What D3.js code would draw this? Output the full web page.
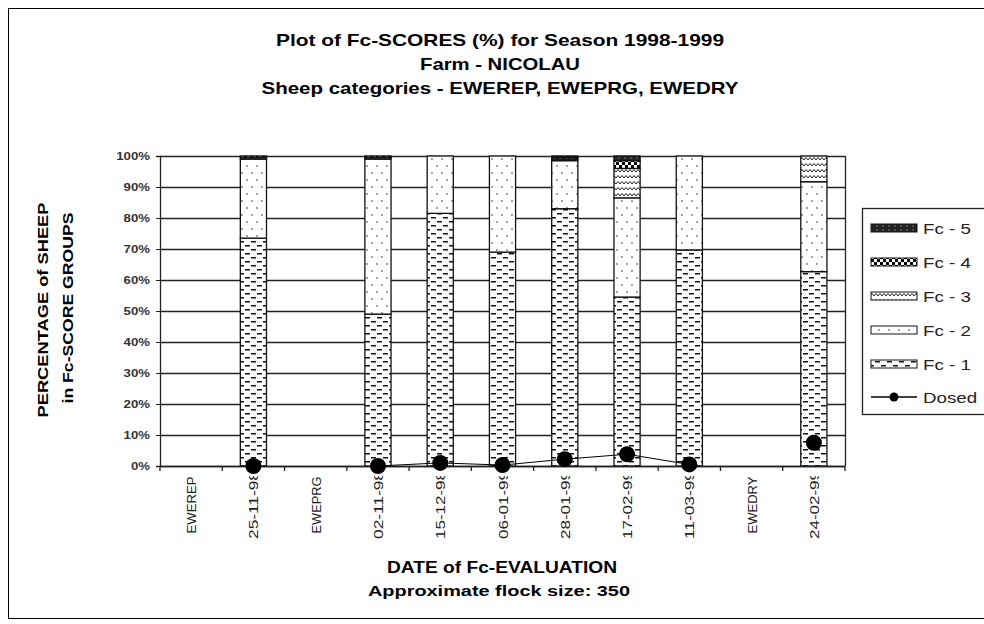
<!DOCTYPE html>
<html>
<head>
<meta charset="utf-8">
<script src="https://cdn.jsdelivr.net/npm/d3@7"></script>
<style>
  body { margin: 0; background: #fff; }
  text { font-family: Arial, "Liberation Sans", sans-serif; }
</style>
</head>
<body>
<div id="chart"></div>
<script>
// categories along the x axis (empty ones are group separators)
var categories = ['EWEREP', '25-11-98', 'EWEPRG', '02-11-98', '15-12-98', '06-01-99',
  '28-01-99', '17-02-99', '11-03-99', 'EWEDRY', '24-02-99'];

// percentages per Fc-score group (null = no bar)
var fc1 = [null, 73.5, null, 49, 81.5, 69, 83, 54.5, 69.7, null, 62.7];
var fc2 = [null, 25.5, null, 50, 18.5, 31, 15.5, 32, 30.3, null, 29];
var fc3 = [null, 0.5, null, 0.5, 0, 0, 0.5, 9.5, 0, null, 8.3];
var fc4 = [null, 0.5, null, 0.5, 0, 0, 0.5, 2.5, 0, null, 0];
var fc5 = [null, 0, null, 0, 0, 0, 0.5, 1.5, 0, null, 0];

// percentage of sheep dosed
var dosed = [null, 0, null, 0, 1, 0.3, 2.2, 3.8, 0.5, null, 7.5];

var yTicks = [0, 10, 20, 30, 40, 50, 60, 70, 80, 90, 100];

var W = 984, H = 624;
var margin = { top: 156, left: 160, right: 139, bottom: 158 };
var plotW = W - margin.left - margin.right,
  plotH = H - margin.top - margin.bottom;

// the old chart renders its fonts a bit wider than plain Arial
function stretch(sel, f) {
  sel.each(function () {
    var len = this.getComputedTextLength();
    d3.select(this).attr('textLength', len * f).attr('lengthAdjust', 'spacingAndGlyphs');
  });
}
function fitTo(sel, len) {
  sel.attr('textLength', len).attr('lengthAdjust', 'spacingAndGlyphs');
}

var svg = d3.select('#chart').append('svg')
  .attr('width', W).attr('height', H);

// patterns
var defs = svg.append('defs');

var p1 = defs.append('pattern').attr('id', 'pat1').attr('patternUnits', 'userSpaceOnUse')
  .attr('width', 12).attr('height', 8);
p1.append('rect').attr('width', 12).attr('height', 8).attr('fill', '#fff');
p1.append('rect').attr('x', 1).attr('y', 1).attr('width', 5).attr('height', 1.5).attr('fill', '#111');
p1.append('rect').attr('x', 7).attr('y', 5).attr('width', 5).attr('height', 1.5).attr('fill', '#111');

var p2 = defs.append('pattern').attr('id', 'pat2').attr('patternUnits', 'userSpaceOnUse')
  .attr('width', 10).attr('height', 14);
p2.append('rect').attr('width', 10).attr('height', 14).attr('fill', '#fff');
p2.append('circle').attr('cx', 2).attr('cy', 3).attr('r', 0.9).attr('fill', '#777');
p2.append('circle').attr('cx', 7).attr('cy', 10).attr('r', 0.9).attr('fill', '#777');

var p3 = defs.append('pattern').attr('id', 'pat3').attr('patternUnits', 'userSpaceOnUse')
  .attr('width', 8).attr('height', 6);
p3.append('rect').attr('width', 8).attr('height', 6).attr('fill', '#fff');
p3.append('path').attr('d', 'M0,4 L2,1.5 L4,4 L6,1.5 L8,4')
  .attr('fill', 'none').attr('stroke', '#222').attr('stroke-width', 1);

var p4 = defs.append('pattern').attr('id', 'pat4').attr('patternUnits', 'userSpaceOnUse')
  .attr('width', 6).attr('height', 6);
p4.append('rect').attr('width', 6).attr('height', 6).attr('fill', '#fff');
p4.append('rect').attr('width', 3).attr('height', 3).attr('fill', '#000');
p4.append('rect').attr('x', 3).attr('y', 3).attr('width', 3).attr('height', 3).attr('fill', '#000');

var p5 = defs.append('pattern').attr('id', 'pat5').attr('patternUnits', 'userSpaceOnUse')
  .attr('width', 6).attr('height', 4);
p5.append('rect').attr('width', 6).attr('height', 4).attr('fill', '#222');
p5.append('circle').attr('cx', 3).attr('cy', 2).attr('r', 0.7).attr('fill', '#999');

// clip for the x tick labels (the long date labels lose their top)
defs.append('clipPath').attr('id', 'xlabClip').append('rect')
  .attr('x', 0).attr('y', 476).attr('width', W).attr('height', 80);

var groups = [
  { name: 'Fc - 1', values: fc1, fill: 'url(#pat1)' },
  { name: 'Fc - 2', values: fc2, fill: 'url(#pat2)' },
  { name: 'Fc - 3', values: fc3, fill: 'url(#pat3)' },
  { name: 'Fc - 4', values: fc4, fill: 'url(#pat4)' },
  { name: 'Fc - 5', values: fc5, fill: 'url(#pat5)' },
];

// outer chart frame (right side runs off the picture)
svg.append('rect')
  .attr('x', 8.5).attr('y', 8.5).attr('width', W + 10).attr('height', H - 14)
  .attr('fill', 'none').attr('stroke', '#000').attr('stroke-width', 1);

// titles
var titles = ['Plot of Fc-SCORES (%) for Season 1998-1999', 'Farm - NICOLAU',
  'Sheep categories - EWEREP, EWEPRG, EWEDRY'];
var titleLens = [448, 160, 477];
svg.selectAll('.title').data(titles).enter().append('text')
  .attr('class', 'title')
  .attr('x', 500).attr('y', function (d, i) { return 46 + i * 24; })
  .attr('text-anchor', 'middle')
  .style('font-size', '17px').style('font-weight', 'bold')
  .attr('textLength', function (d, i) { return titleLens[i]; })
  .attr('lengthAdjust', 'spacingAndGlyphs')
  .text(function (d) { return d; });

var g = svg.append('g').attr('transform', 'translate(' + margin.left + ',' + margin.top + ')');

var x = d3.scaleBand().domain(categories).range([0, plotW]);
var y = d3.scaleLinear().domain([0, 100]).range([plotH, 0]);
var barW = x.bandwidth() * 0.42;

// gridlines
g.selectAll('.grid').data(yTicks).enter().append('line')
  .attr('x1', 0).attr('x2', plotW)
  .attr('y1', function (d) { return Math.round(y(d)) + 0.5; })
  .attr('y2', function (d) { return Math.round(y(d)) + 0.5; })
  .attr('stroke', '#222').attr('stroke-width', 1.3);

// right border of plot area
g.append('line').attr('x1', plotW + 0.5).attr('x2', plotW + 0.5)
  .attr('y1', 0).attr('y2', plotH).attr('stroke', '#222').attr('stroke-width', 1.3);

// stacked bars
var stackData = categories.map(function (c, i) {
  var base = 0;
  return groups.map(function (grp) {
    var v = grp.values[i];
    var seg = { cat: c, y0: base, y1: base + (v || 0), fill: grp.fill, has: v !== null };
    base += v || 0;
    return seg;
  });
});

stackData.forEach(function (segs) {
  segs.filter(function (s) { return s.has && s.y1 > s.y0; }).forEach(function (s) {
    g.append('rect')
      .attr('x', x(s.cat) + (x.bandwidth() - barW) / 2)
      .attr('y', y(s.y1))
      .attr('width', barW)
      .attr('height', y(s.y0) - y(s.y1))
      .attr('fill', s.fill)
      .attr('stroke', '#111').attr('stroke-width', 1.3);
  });
});

// axes
var yAxis = g.append('g').call(d3.axisLeft(y).tickValues(yTicks).tickSize(4)
  .tickFormat(function (d) { return d + '%'; }));
yAxis.select('.domain').attr('stroke', '#222').attr('stroke-width', 1.3);
yAxis.selectAll('.tick line').attr('stroke', '#222');
yAxis.selectAll('text').style('font-size', '11px').style('font-weight', 'bold')
  .attr('fill', '#333').attr('x', -10);
stretch(yAxis.selectAll('text'), 1.2);

var xAxis = g.append('g').attr('transform', 'translate(0,' + plotH + ')');
xAxis.append('line').attr('x1', 0).attr('x2', plotW).attr('y1', 0.5).attr('y2', 0.5)
  .attr('stroke', '#222').attr('stroke-width', 1.3);
var edges = categories.map(function (c) { return x(c); }).concat([plotW]);
xAxis.selectAll('.xtick').data(edges).enter().append('line')
  .attr('x1', function (d) { return d; }).attr('x2', function (d) { return d; })
  .attr('y1', 0).attr('y2', 5).attr('stroke', '#222').attr('stroke-width', 1.3);

// x tick labels, read bottom to top, centred below each band
var xLabels = svg.append('g').attr('clip-path', 'url(#xlabClip)');
xLabels.selectAll('.xlabel').data(categories).enter().append('text')
  .attr('transform', function (d) {
    return 'translate(' + (margin.left + x(d) + x.bandwidth() / 2 + 5) + ',505) rotate(-90)';
  })
  .attr('text-anchor', 'middle')
  .style('font-size', '13px').attr('fill', '#222')
  .attr('textLength', function (d) { return /^EWE/.test(d) ? 57 : 68; })
  .attr('lengthAdjust', 'spacingAndGlyphs')
  .text(function (d) { return d; });

// dosed line (breaks across empty categories)
var line = d3.line()
  .defined(function (d) { return d.v !== null; })
  .x(function (d) { return x(d.c) + x.bandwidth() / 2; })
  .y(function (d) { return y(d.v); });
var dosedPts = categories.map(function (c, i) { return { c: c, v: dosed[i] }; });
g.append('path').datum(dosedPts).attr('d', line)
  .attr('fill', 'none').attr('stroke', '#000').attr('stroke-width', 1);
g.selectAll('.dot').data(dosedPts.filter(function (d) { return d.v !== null; }))
  .enter().append('circle')
  .attr('cx', function (d) { return x(d.c) + x.bandwidth() / 2; })
  .attr('cy', function (d) { return y(d.v); })
  .attr('r', 8).attr('fill', '#000');

// y axis title (two lines)
svg.append('text').attr('transform', 'translate(48,310) rotate(-90)')
  .attr('text-anchor', 'middle').style('font-size', '15px').style('font-weight', 'bold')
  .call(fitTo, 215).text('PERCENTAGE of SHEEP');
svg.append('text').attr('transform', 'translate(73,308) rotate(-90)')
  .attr('text-anchor', 'middle').style('font-size', '15px').style('font-weight', 'bold')
  .call(fitTo, 191).text('in Fc-SCORE GROUPS');

// x axis titles
svg.append('text').attr('x', 502).attr('y', 573).attr('text-anchor', 'middle')
  .style('font-size', '16px').style('font-weight', 'bold')
  .call(fitTo, 230).text('DATE of Fc-EVALUATION');
svg.append('text').attr('x', 499).attr('y', 596).attr('text-anchor', 'middle')
  .style('font-size', '14px').style('font-weight', 'bold')
  .call(fitTo, 262).text('Approximate flock size: 350');

// legend
var lg = svg.append('g').attr('transform', 'translate(862,208)');
lg.append('rect').attr('x', 0.5).attr('y', 0.5).attr('width', 130).attr('height', 206)
  .attr('fill', '#fff').attr('stroke', '#222').attr('stroke-width', 1.3);
var legendItems = groups.slice().reverse();
legendItems.forEach(function (grp, i) {
  var ly = 20 + i * 34;
  lg.append('rect').attr('x', 9).attr('y', ly - 4).attr('width', 46).attr('height', 8)
    .attr('fill', grp.fill).attr('stroke', '#111').attr('stroke-width', 1);
  lg.append('text').attr('class', 'ltext').attr('x', 61).attr('y', ly + 5.5).style('font-size', '15px')
    .attr('fill', '#222').text(grp.name);
});
var dy = 20 + 5 * 34 - 1;
lg.append('line').attr('x1', 9).attr('x2', 55).attr('y1', dy).attr('y2', dy)
  .attr('stroke', '#000').attr('stroke-width', 1.3);
lg.append('circle').attr('cx', 32).attr('cy', dy).attr('r', 4.5).attr('fill', '#000');
lg.append('text').attr('class', 'ltext').attr('x', 61).attr('y', dy + 5.5).style('font-size', '15px')
  .attr('fill', '#222').text('Dosed');
stretch(lg.selectAll('.ltext'), 1.25);
</script>
</body>
</html>
